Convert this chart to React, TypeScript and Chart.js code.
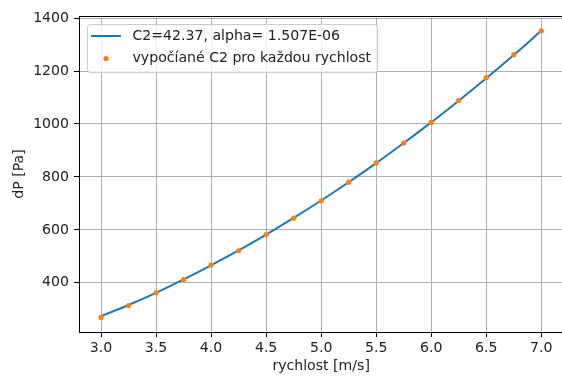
import React, { useEffect, useRef } from "react";
import { Chart, registerables } from "chart.js";

Chart.register(...registerables);

// ---- data ----
const speeds = [3.0, 3.25, 3.5, 3.75, 4.0, 4.25, 4.5, 4.75, 5.0, 5.25, 5.5, 5.75, 6.0, 6.25, 6.5, 6.75, 7.0];
const fitValues = [274, 316, 362, 413, 466, 522, 582, 645, 711, 780, 852, 928, 1006, 1088, 1173, 1261, 1352];
const measuredValues = [269, 314, 362, 412, 467, 521, 582, 644, 710, 780, 853, 928, 1006, 1089, 1175, 1262, 1352];
const xTicks = [3.0, 3.5, 4.0, 4.5, 5.0, 5.5, 6.0, 6.5, 7.0];
const yTicks = [400, 600, 800, 1000, 1200, 1400];
const fitLabel = "C2=42.37, alpha= 1.507E-06";
const pointLabel = "vypočíané C2 pro každou rychlost";
const xTitle = "rychlost [m/s]";
const yTitle = "dP [Pa]";

const FONT = "DejaVu Sans";
const FS = 14.1;
const TEXT = "#222222";
const BLUE = "#1f77b4";
const ORANGE = "#ff7f0e";

const framePlugin = {
  id: "mplFrame",
  afterDatasetsDraw(chart: any) {
    const { ctx, chartArea: ca } = chart;
    ctx.save();
    ctx.strokeStyle = "#000";
    ctx.lineWidth = 1;
    const y = Math.round(ca.top) + 0.5;
    ctx.beginPath();
    ctx.moveTo(ca.left, y);
    ctx.lineTo(ca.right, y);
    ctx.stroke();
    ctx.restore();
  },
  afterDraw(chart: any) {
    const { ctx, chartArea: ca } = chart;
    const ds = chart.data.datasets;
    const lineDs = ds.find((d: any) => d.showLine !== false);
    const ptDs = ds.find((d: any) => d.showLine === false);
    ctx.save();
    ctx.font = `${FS}px "${FONT}"`;
    const left = ca.left + 8.5;
    const top = ca.top + 8.5;
    const textX = left + 45;
    const maxW = Math.max(ctx.measureText(lineDs.label).width, ctx.measureText(ptDs.label).width);
    const w = Math.round(textX + maxW + 6 - left);
    const h = 48;
    const r = 3;
    ctx.beginPath();
    ctx.moveTo(left + r, top);
    ctx.lineTo(left + w - r, top);
    ctx.arcTo(left + w, top, left + w, top + r, r);
    ctx.lineTo(left + w, top + h - r);
    ctx.arcTo(left + w, top + h, left + w - r, top + h, r);
    ctx.lineTo(left + r, top + h);
    ctx.arcTo(left, top + h, left, top + h - r, r);
    ctx.lineTo(left, top + r);
    ctx.arcTo(left, top, left + r, top, r);
    ctx.closePath();
    ctx.fillStyle = "rgba(255,255,255,0.8)";
    ctx.fill();
    ctx.strokeStyle = "#cccccc";
    ctx.lineWidth = 1;
    ctx.stroke();

    const row1 = top + 11.5;
    const row2 = top + 34;
    ctx.strokeStyle = lineDs.borderColor;
    ctx.lineWidth = lineDs.borderWidth;
    ctx.beginPath();
    ctx.moveTo(left + 3.5, row1);
    ctx.lineTo(left + 33.5, row1);
    ctx.stroke();
    ctx.fillStyle = ptDs.backgroundColor;
    ctx.beginPath();
    ctx.arc(left + 18.5, row2, ptDs.pointRadius, 0, Math.PI * 2);
    ctx.fill();

    ctx.fillStyle = TEXT;
    ctx.textBaseline = "middle";
    ctx.textAlign = "left";
    ctx.fillText(lineDs.label, textX, row1);
    ctx.fillText(ptDs.label, textX, row2);
    ctx.restore();
  },
};

export default function App() {
  const ref = useRef<HTMLCanvasElement | null>(null);

  useEffect(() => {
    document.body.style.margin = "0";
    const canvas = ref.current;
    if (!canvas) return;
    const chart = new Chart(canvas, {
      type: "line",
      data: {
        datasets: [
          {
            label: fitLabel,
            data: speeds.map((x, i) => ({ x, y: fitValues[i] })),
            borderColor: BLUE,
            backgroundColor: BLUE,
            borderWidth: 2,
            pointRadius: 0,
            cubicInterpolationMode: "monotone",
            order: 2,
          },
          {
            label: pointLabel,
            data: speeds.map((x, i) => ({ x, y: measuredValues[i] })),
            showLine: false,
            borderColor: ORANGE,
            backgroundColor: ORANGE,
            borderWidth: 0,
            pointRadius: 2.6,
            pointBorderWidth: 0,
            order: 1,
          },
        ],
      },
      options: {
        animation: false,
        responsive: false,
        devicePixelRatio: 1,
        layout: { padding: { left: 0, top: 16, right: 18.7, bottom: 0 } },
        plugins: { legend: { display: false }, tooltip: { enabled: false } },
        scales: {
          x: {
            type: "linear",
            min: 2.8,
            max: 7.2,
            afterBuildTicks: (s: any) => {
              s.ticks = xTicks.map((v) => ({ value: v }));
            },
            afterFit: (s: any) => {
              s.height = 44;
            },
            ticks: {
              callback: (v: any) => Number(v).toFixed(1),
              font: { family: FONT, size: FS },
              color: TEXT,
              padding: 3,
              maxRotation: 0,
              autoSkip: false,
            },
            grid: { color: "#b0b0b0", lineWidth: 1, tickColor: "#000", tickLength: 5, drawTicks: true },
            border: { color: "#000", width: 1 },
            title: {
              display: true,
              text: xTitle,
              font: { family: FONT, size: FS },
              color: TEXT,
              padding: { top: 0, bottom: 1.5 },
            },
          },
          y: {
            type: "linear",
            min: 214,
            max: 1408,
            afterBuildTicks: (s: any) => {
              s.ticks = yTicks.map((v) => ({ value: v }));
            },
            afterFit: (s: any) => {
              s.width = 79;
            },
            ticks: {
              callback: (v: any) => String(v),
              font: { family: FONT, size: FS },
              color: TEXT,
              padding: 5,
              autoSkip: false,
            },
            grid: { color: "#b0b0b0", lineWidth: 1, tickColor: "#000", tickLength: 5, drawTicks: true },
            border: { color: "#000", width: 1 },
            title: {
              display: true,
              text: yTitle,
              font: { family: FONT, size: FS },
              color: TEXT,
              padding: { top: 10.7, bottom: 0 },
            },
          },
        },
      },
      plugins: [framePlugin],
    } as any);
    return () => chart.destroy();
  }, []);

  return (
    <div style={{ position: "absolute", left: 0, top: 0, width: 562, height: 376, overflow: "hidden", background: "#fff" }}>
      <canvas ref={ref} width={582} height={376} style={{ width: 582, height: 376, display: "block" }} />
    </div>
  );
}
